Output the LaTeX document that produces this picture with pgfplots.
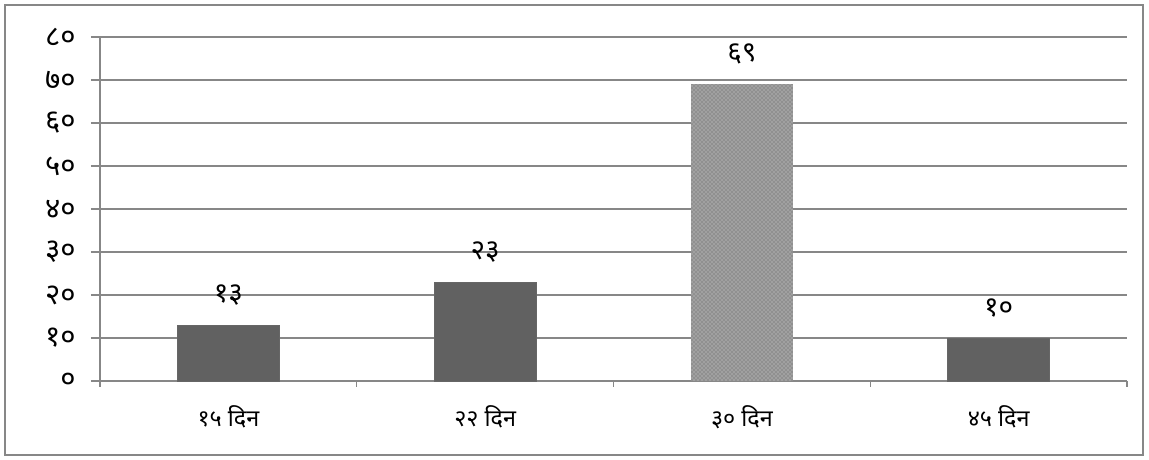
\documentclass[border=0pt]{standalone}
\usepackage{pgfplots}
\pgfplotsset{compat=1.18}
\usepackage{fontspec}
\newfontfamily\devfont[Script=Devanagari]{Noto Sans}
\usetikzlibrary{patterns}
\definecolor{gridgray}{HTML}{878787}
\definecolor{bargray}{HTML}{616161}
\definecolor{texgray}{HTML}{A0A0A0}
\definecolor{texdark}{HTML}{5E5E5E}
\begin{document}
\begin{tikzpicture}
\begin{axis}[
  scale only axis, width=770.25pt, height=258pt,
  at={(0,0)}, anchor=south west,
  xmin=-0.5, xmax=3.5, ymin=0, ymax=80,
  axis lines*=left,
  axis line style={draw=gridgray, line width=1.1pt},
  ymajorgrids, grid style={draw=gridgray, line width=1.1pt},
  ytick={0,10,...,80},
  yticklabels={०,१०,२०,३०,४०,५०,६०,७०,८०},
  xtick={0,1,2,3},
  xticklabels={१५ दिन,२२ दिन,३० दिन,४५ दिन},
  minor xtick={-0.5,0.5,1.5,2.5,3.5},
  tick style={draw=gridgray, line width=1.1pt},
  major x tick style={draw=none},
  tick align=outside,
  major tick length=6.75pt,
  minor tick length=4.5pt,
  yticklabel style={font=\devfont\fontsize{22}{24}\selectfont, text=black, xshift=-8pt},
  xticklabel style={font=\devfont\fontsize{17.5}{19}\selectfont, text=black, yshift=-8pt},
  ybar, bar width=76.5pt,
  point meta=explicit symbolic,
  nodes near coords,
  nodes near coords style={font=\devfont\fontsize{21}{24}\selectfont, anchor=center, yshift=22.5pt, text=black},
  clip=false,
]
\addplot[bar shift=0pt, fill=bargray, draw=gray!80!black, line width=0.4pt] coordinates {(0,13)[१३] (1,23)[२३] (3,10)[१०]};
\addplot[bar shift=0pt, fill=texgray, draw=none, postaction={pattern=crosshatch dots, pattern color=texdark}] coordinates {(2,69)[६९]};
\coordinate (bl) at (rel axis cs:0,0);
\coordinate (tr) at (rel axis cs:1,1);
\end{axis}
\draw[gridgray, line width=1.5pt] ([xshift=-71.25pt,yshift=-55.5pt]bl) rectangle ([xshift=12pt,yshift=24pt]tr);
\pgfresetboundingbox
\useasboundingbox ([xshift=-75pt,yshift=-59.25pt]bl) rectangle ([xshift=16.5pt,yshift=27.75pt]tr);
\end{tikzpicture}
\end{document}
